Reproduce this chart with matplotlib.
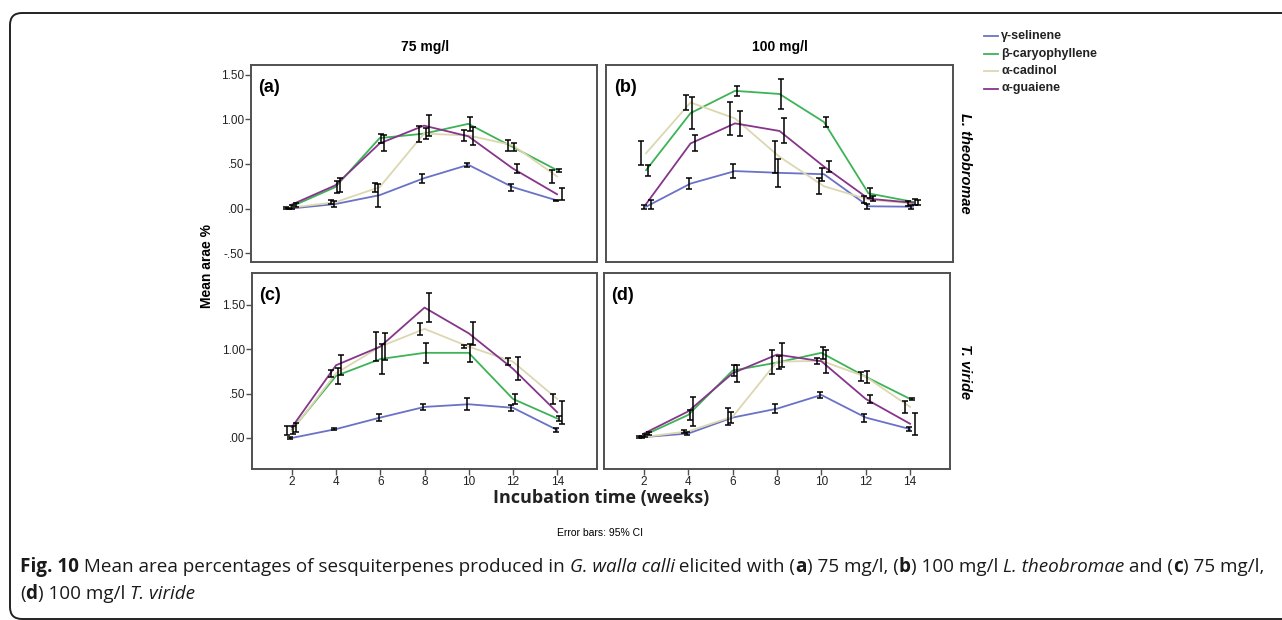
import numpy as np
import matplotlib
matplotlib.use("Agg")
import matplotlib.pyplot as plt
from matplotlib.patches import FancyBboxPatch
from matplotlib.transforms import IdentityTransform

plt.rcParams['font.family'] = ['Liberation Sans', 'DejaVu Sans']

weeks = [2, 4, 6, 8, 10, 12, 14]
compounds = ["γ-selinene", "β-caryophyllene", "α-cadinol", "α-guaiene"]
colors = ["#6a72c6", "#3db356", "#dcd7b0", "#86358a"]

# mean area % per compound (rows follow `compounds`), one block per panel
mean_a = [[0.00, 0.05, 0.15, 0.34, 0.49, 0.24, 0.09],
          [0.02, 0.24, 0.79, 0.84, 0.95, 0.69, 0.43],
          [0.01, 0.07, 0.24, 0.84, 0.82, 0.71, 0.36],
          [0.04, 0.26, 0.73, 0.93, 0.81, 0.45, 0.16]]
ci_a = [[0.01, 0.03, 0.13, 0.05, 0.025, 0.04, 0.01],
        [0.02, 0.07, 0.05, 0.06, 0.08, 0.05, 0.015],
        [0.01, 0.02, 0.05, 0.09, 0.06, 0.06, 0.07],
        [0.02, 0.08, 0.09, 0.12, 0.10, 0.05, 0.07]]

mean_b = [[0.02, 0.28, 0.42, 0.40, 0.385, 0.025, 0.02],
          [0.43, 1.07, 1.32, 1.285, 0.97, 0.17, 0.075],
          [0.62, 1.19, 1.01, 0.58, 0.25, 0.10, 0.055],
          [0.05, 0.73, 0.955, 0.87, 0.47, 0.11, 0.065]]
ci_b = [[0.02, 0.06, 0.08, 0.16, 0.075, 0.03, 0.02],
        [0.06, 0.18, 0.06, 0.17, 0.06, 0.055, 0.03],
        [0.135, 0.08, 0.19, 0.18, 0.09, 0.04, 0.03],
        [0.05, 0.09, 0.14, 0.14, 0.06, 0.03, 0.03]]

mean_c = [[0.00, 0.10, 0.23, 0.35, 0.38, 0.34, 0.09],
          [0.09, 0.70, 0.89, 0.96, 0.96, 0.44, 0.22],
          [0.08, 0.73, 1.03, 1.23, 1.03, 0.86, 0.44],
          [0.12, 0.82, 1.03, 1.47, 1.18, 0.78, 0.29]]
ci_c = [[0.01, 0.01, 0.04, 0.03, 0.07, 0.035, 0.02],
        [0.05, 0.09, 0.17, 0.11, 0.10, 0.055, 0.03],
        [0.05, 0.04, 0.16, 0.065, 0.015, 0.04, 0.06],
        [0.05, 0.11, 0.15, 0.165, 0.13, 0.13, 0.13]]

mean_d = [[0.01, 0.05, 0.23, 0.33, 0.485, 0.23, 0.10],
          [0.03, 0.26, 0.76, 0.85, 0.96, 0.69, 0.44],
          [0.01, 0.075, 0.24, 0.86, 0.87, 0.69, 0.35],
          [0.05, 0.30, 0.73, 0.94, 0.865, 0.44, 0.16]]
ci_d = [[0.01, 0.02, 0.065, 0.05, 0.03, 0.045, 0.025],
        [0.02, 0.06, 0.065, 0.07, 0.065, 0.065, 0.015],
        [0.01, 0.02, 0.095, 0.135, 0.035, 0.05, 0.07],
        [0.02, 0.16, 0.095, 0.135, 0.13, 0.05, 0.125]]

W, H = 1282, 620
fig = plt.figure(figsize=(W / 100, H / 100), dpi=100)

def box(l, t, r, b):
    return [l / W, 1 - b / H, (r - l) / W, (b - t) / H]

ax_a = fig.add_axes(box(251, 65, 597, 262))
ax_b = fig.add_axes(box(606, 65, 953, 262))
ax_c = fig.add_axes(box(252, 273, 597, 469))
ax_d = fig.add_axes(box(604, 273, 950, 469))

# error bars are dodged a little per compound, lines stay on the week
dodge = [-0.07, 0.07, -0.21, 0.21]
edge = "#505050"

panels = [(ax_a, mean_a, ci_a, "(a)"), (ax_b, mean_b, ci_b, "(b)"),
          (ax_c, mean_c, ci_c, "(c)"), (ax_d, mean_d, ci_d, "(d)")]
x = np.array(weeks, dtype=float)
for ax, means, cis, tag in panels:
    for k in range(4):
        ax.plot(x, means[k], color=colors[k], lw=1.3, zorder=2)
    for k in range(4):
        ax.errorbar(x + dodge[k], means[k], yerr=cis[k], fmt="none",
                    ecolor="black", elinewidth=1.1, capsize=2, capthick=1.1, zorder=3)
    ax.set_xlim(0.2, 15.8)
    for s in ax.spines.values():
        s.set_color(edge)
        s.set_linewidth(1.4)
    ax.tick_params(direction="out", length=4, width=1, color=edge, labelsize=8.5,
                   labelcolor="#222222", pad=1)
    ax.text(0.022, 0.93, tag, transform=ax.transAxes, fontsize=13, fontweight="bold",
            va="top", ha="left")

for ax in (ax_a, ax_b):
    ax.set_ylim(-0.6, 1.61)
    ax.set_xticks([])
for ax in (ax_c, ax_d):
    ax.set_ylim(-0.35, 1.86)
    ax.set_xticks(weeks)
    ax.set_xticklabels([str(w) for w in weeks])

ax_a.set_yticks([-0.5, 0, 0.5, 1.0, 1.5])
ax_a.set_yticklabels(["-.50", ".00", ".50", "1.00", "1.50"])
ax_c.set_yticks([0, 0.5, 1.0, 1.5])
ax_c.set_yticklabels([".00", ".50", "1.00", "1.50"])
ax_b.set_yticks([])
ax_d.set_yticks([])

# column / row headers
fig.text(425 / W, 1 - 47 / H, "75 mg/l", ha="center", va="center", fontsize=10, fontweight="bold")
fig.text(780 / W, 1 - 47 / H, "100 mg/l", ha="center", va="center", fontsize=10, fontweight="bold")
fig.text(965 / W, 1 - 163 / H, "L. theobromae", rotation=270, ha="center", va="center",
         fontsize=10.5, fontweight="bold", style="italic")
fig.text(965 / W, 1 - 372 / H, "T. viride", rotation=270, ha="center", va="center",
         fontsize=10.5, fontweight="bold", style="italic")
fig.text(207 / W, 1 - 266 / H, "Mean arae %", rotation=90, ha="center", va="center",
         fontsize=10, fontweight="bold")
fig.text(601 / W, 1 - 498 / H, "Incubation time (weeks)", ha="center", va="center",
         fontsize=13, fontweight="bold", family=["Open Sans", "DejaVu Sans"], color="#222222")
fig.text(600 / W, 1 - 533 / H, "Error bars: 95% CI", ha="center", va="center", fontsize=7.5)

# legend
for k, name in enumerate(compounds):
    yy = 1 - (36 + 17.5 * k) / H
    fig.add_artist(plt.Line2D([984 / W, 998 / W], [yy, yy], color=colors[k], lw=1.3))
    fig.text(1001 / W, yy, name, ha="left", va="center", fontsize=9, fontweight="bold",
             color="#222222")

# frame around the figure
frame = FancyBboxPatch((10, 1), 1400, 606, boxstyle="round,pad=0,rounding_size=12",
                       transform=IdentityTransform(), fill=False, edgecolor="#222222", lw=1.4)
fig.add_artist(frame)

# caption set as runs of mixed weight / slant
cap_font = ["Open Sans", "DejaVu Sans"]
renderer = fig.canvas.get_renderer()

def style_kw(st, size):
    kw = dict(fontsize=size, color="#1a1a1a")
    if st == "b":
        kw["fontweight"] = "bold"
    elif st == "i":
        kw["style"] = "italic"
    return kw

def text_width(s, **kw):
    t1 = fig.text(0, 0, "|" + s + "|", family=cap_font, **kw)
    t2 = fig.text(0, 0, "||", family=cap_font, **kw)
    w = t1.get_window_extent(renderer).width - t2.get_window_extent(renderer).width
    t1.remove()
    t2.remove()
    return w

def runs_width(runs, size):
    return sum(text_width(s, **style_kw(st, size)) for s, st in runs)

def draw_runs(x0, y0, runs, size):
    xpos = x0
    for s, st in runs:
        kw = style_kw(st, size)
        fig.text(xpos / W, 1 - y0 / H, s, family=cap_font, va="baseline", ha="left", **kw)
        xpos += text_width(s, **kw)

line1 = [("Fig. 10", "b"), (" Mean area percentages of sesquiterpenes produced in ", "n"),
         ("G. walla calli", "i"), (" elicited with (", "n"), ("a", "b"), (") 75 mg/l, (", "n"),
         ("b", "b"), (") 100 mg/l ", "n"), ("L. theobromae", "i"), (" and (", "n"),
         ("c", "b"), (") 75 mg/l,", "n")]
line2 = [("(", "n"), ("d", "b"), (") 100 mg/l ", "n"), ("T. viride", "i")]

# first caption line runs from x=20 to about x=1268
cap_size = 11 * 1248 / runs_width(line1, 11)
draw_runs(20, 572, line1, cap_size)
draw_runs(20, 599, line2, cap_size)

fig.savefig("out.png", dpi=100)
